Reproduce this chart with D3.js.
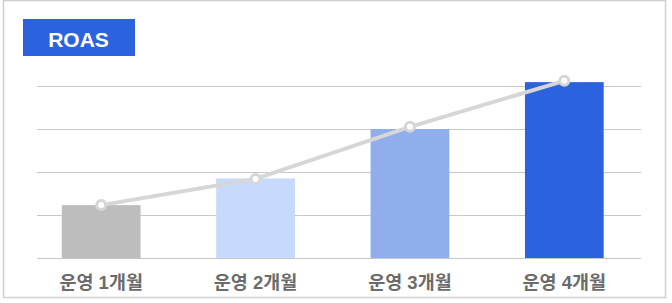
<!DOCTYPE html>
<html>
<head>
<meta charset="utf-8">
<script src="https://cdn.jsdelivr.net/npm/d3@7"></script>
<style>
  body { margin: 0; background: #fff; font-family: "Liberation Sans", "Noto Sans CJK KR", sans-serif; }
</style>
</head>
<body>
<script>
// chart data
var months = ["운영 1개월", "운영 2개월", "운영 3개월", "운영 4개월"];
var barValues = [123, 185, 300, 409];
var lineValues = [123, 184, 305, 412];
var barColors = ["#bdbdbd", "#c8dafb", "#8faeeb", "#2b63de"];
var gridTicks = [0, 100, 200, 300, 400];
var title = "ROAS";

var width = 672, height = 303;

var svg = d3.select("body").append("svg")
    .attr("width", width)
    .attr("height", height);

// outer frame
svg.append("rect")
    .attr("x", 3.5).attr("y", 0.5)
    .attr("width", 662).attr("height", 297)
    .attr("fill", "#fff")
    .attr("stroke", "#d0d0d0")
    .attr("stroke-width", 1.5);

// title badge
svg.append("rect")
    .attr("x", 23).attr("y", 19)
    .attr("width", 112).attr("height", 37)
    .attr("fill", "#2b63de");
svg.append("text")
    .attr("x", 78.5).attr("y", 46.5)
    .attr("text-anchor", "middle")
    .attr("fill", "#fff")
    .attr("font-size", 21)
    .attr("font-weight", "bold")
    .text(title);

var x = d3.scaleBand()
    .domain(months)
    .range([24, 641.5])
    .paddingInner(0.49)
    .paddingOuter(0.245);

var y = d3.scaleLinear()
    .domain([0, 400])
    .range([258, 86]);

// gridlines
svg.append("g")
    .selectAll("line")
    .data(gridTicks)
    .enter().append("line")
    .attr("x1", 37).attr("x2", 641)
    .attr("y1", function(d) { return Math.round(y(d)) + 0.5; })
    .attr("y2", function(d) { return Math.round(y(d)) + 0.5; })
    .attr("stroke", "#c8c8c8")
    .attr("stroke-width", 1);

// bars
svg.append("g")
    .selectAll("rect")
    .data(barValues)
    .enter().append("rect")
    .attr("x", function(d, i) { return x(months[i]); })
    .attr("width", x.bandwidth())
    .attr("y", function(d) { return y(d); })
    .attr("height", function(d) { return y(0) - y(d); })
    .attr("fill", function(d, i) { return barColors[i]; });

// line
var line = d3.line()
    .x(function(d, i) { return x(months[i]) + x.bandwidth() / 2; })
    .y(function(d) { return y(d); });

svg.append("path")
    .datum(lineValues)
    .attr("d", line)
    .attr("fill", "none")
    .attr("stroke", "#d6d6d6")
    .attr("stroke-width", 4);

svg.append("g")
    .selectAll("circle")
    .data(lineValues)
    .enter().append("circle")
    .attr("cx", function(d, i) { return x(months[i]) + x.bandwidth() / 2; })
    .attr("cy", function(d) { return y(d); })
    .attr("r", 4.5)
    .attr("fill", "#fff")
    .attr("stroke", "#d6d6d6")
    .attr("stroke-width", 3);

// category labels
svg.append("g")
    .selectAll("text")
    .data(months)
    .enter().append("text")
    .attr("x", function(d) { return x(d) + x.bandwidth() / 2; })
    .attr("y", 288.5)
    .attr("text-anchor", "middle")
    .attr("fill", "#6b6b6b")
    .attr("font-size", 18.5)
    .attr("font-weight", "bold")
    .text(function(d) { return d; });
</script>
</body>
</html>
